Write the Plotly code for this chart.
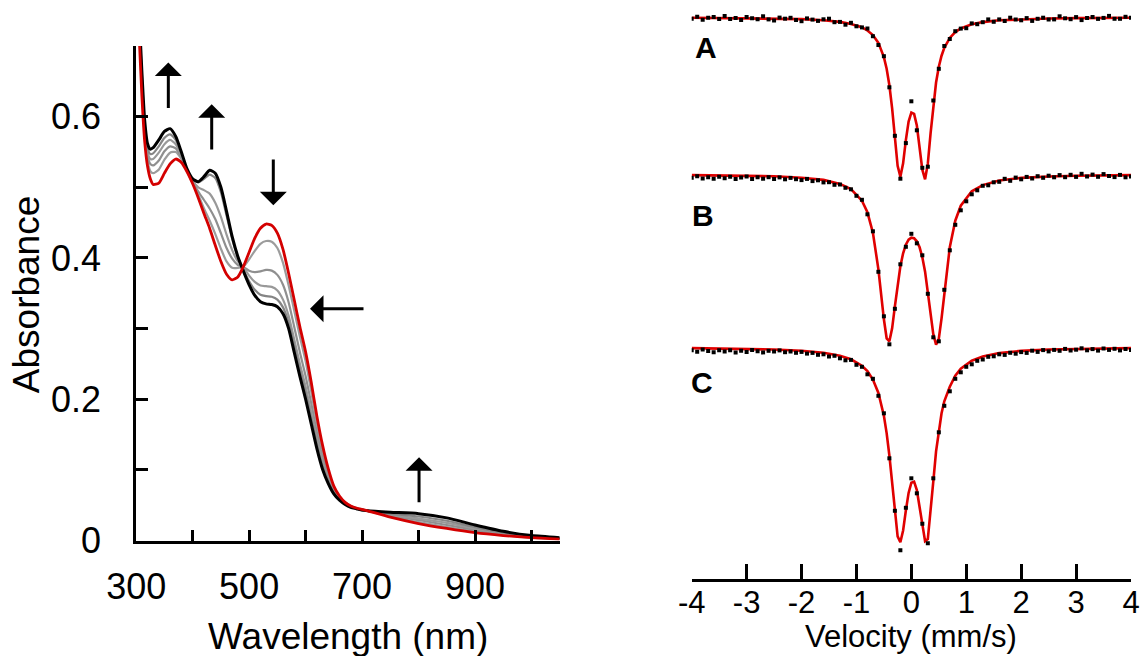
import plotly.graph_objects as go

# ---------------- UV-vis data (left panel) ----------------
wavelength = [300, 305, 310, 315, 320, 325, 330,
              340, 350, 360, 370, 380, 390, 400, 410, 420, 430, 440, 450, 460, 470,
              480, 490, 500, 510, 520, 530, 540, 550, 560, 570, 580, 590, 600, 610,
              620, 630, 640, 650, 660, 670, 680, 690, 700, 710,
              750, 800, 850, 900, 950, 1000, 1050]

abs_initial = [0.82, 0.72, 0.63, 0.565, 0.53, 0.512, 0.504,
               0.506, 0.520, 0.533, 0.540, 0.535, 0.522, 0.505, 0.485, 0.463, 0.442, 0.418, 0.395, 0.377, 0.369,
               0.373, 0.388, 0.408, 0.428, 0.442, 0.448, 0.446, 0.435, 0.412, 0.378, 0.340, 0.302, 0.267, 0.224,
               0.176, 0.135, 0.102, 0.077, 0.063, 0.054, 0.049, 0.046, 0.044, 0.042,
               0.033, 0.024, 0.017, 0.011, 0.007, 0.004, 0.002]

abs_step4 = [0.82, 0.73, 0.64, 0.573, 0.538, 0.523, 0.520,
             0.525, 0.539, 0.549, 0.550, 0.540, 0.523, 0.506, 0.489, 0.470, 0.453, 0.434, 0.413, 0.395, 0.386,
             0.386, 0.388, 0.398, 0.410, 0.420, 0.424, 0.423, 0.414, 0.393, 0.361, 0.325, 0.288, 0.254, 0.211,
             0.166, 0.127, 0.097, 0.074, 0.062, 0.054, 0.049, 0.046, 0.044, 0.042,
             0.034, 0.026, 0.019, 0.013, 0.008, 0.004, 0.002]

abs_step3 = [0.825, 0.735, 0.65, 0.58, 0.545, 0.533, 0.531,
             0.538, 0.551, 0.558, 0.555, 0.542, 0.523, 0.507, 0.494, 0.482, 0.470, 0.455, 0.435, 0.414, 0.399,
             0.390, 0.387, 0.382, 0.380, 0.381, 0.383, 0.382, 0.376, 0.362, 0.337, 0.302, 0.266, 0.233, 0.194,
             0.153, 0.118, 0.092, 0.072, 0.061, 0.053, 0.048, 0.045, 0.043, 0.042,
             0.035, 0.029, 0.022, 0.015, 0.009, 0.005, 0.003]

abs_step2 = [0.83, 0.74, 0.655, 0.585, 0.55, 0.54, 0.540,
             0.549, 0.561, 0.567, 0.561, 0.545, 0.524, 0.509, 0.500, 0.496, 0.491, 0.478, 0.458, 0.433, 0.411,
             0.395, 0.387, 0.375, 0.366, 0.361, 0.360, 0.359, 0.354, 0.341, 0.318, 0.284, 0.250, 0.218, 0.181,
             0.143, 0.111, 0.088, 0.070, 0.059, 0.053, 0.048, 0.045, 0.043, 0.042,
             0.036, 0.031, 0.025, 0.017, 0.010, 0.005, 0.003]

abs_step1 = [0.835, 0.745, 0.66, 0.59, 0.556, 0.547, 0.548,
             0.558, 0.570, 0.575, 0.567, 0.548, 0.525, 0.511, 0.507, 0.512, 0.518, 0.513, 0.493, 0.460, 0.427,
             0.401, 0.383, 0.367, 0.355, 0.348, 0.346, 0.345, 0.341, 0.330, 0.308, 0.275, 0.241, 0.209, 0.173,
             0.137, 0.106, 0.085, 0.068, 0.058, 0.052, 0.047, 0.045, 0.043, 0.042,
             0.038, 0.034, 0.028, 0.019, 0.011, 0.006, 0.003]

abs_final = [0.84, 0.75, 0.665, 0.595, 0.562, 0.554, 0.556,
             0.567, 0.579, 0.583, 0.572, 0.550, 0.526, 0.512, 0.508, 0.515, 0.524, 0.520, 0.500, 0.466, 0.430,
             0.402, 0.381, 0.362, 0.347, 0.338, 0.335, 0.334, 0.331, 0.321, 0.300, 0.266, 0.232, 0.200, 0.165,
             0.130, 0.101, 0.081, 0.066, 0.057, 0.051, 0.047, 0.045, 0.043, 0.042,
             0.040, 0.038, 0.032, 0.022, 0.013, 0.007, 0.004]

wl_tickvals = [300, 400, 500, 600, 700, 800, 900, 1000]
wl_ticktext = ["300", "", "500", "", "700", "", "900", ""]
abs_tickvals = [0, 0.1, 0.2, 0.3, 0.4, 0.5, 0.6, 0.7]
abs_ticktext = ["0", "", "0.2", "", "0.4", "", "0.6", ""]

# ---------------- Mossbauer data (right panel), relative transmission % ----------------
velocity = [-4.0, -3.9, -3.8, -3.7, -3.6, -3.5, -3.4, -3.3, -3.2, -3.1,
            -3.0, -2.9, -2.8, -2.7, -2.6, -2.5, -2.4, -2.3, -2.2, -2.1,
            -2.0, -1.9, -1.8, -1.7, -1.6, -1.5, -1.4, -1.3, -1.2, -1.1,
            -1.0, -0.9, -0.8, -0.7, -0.6, -0.5, -0.4, -0.3, -0.2, -0.1,
            0.0, 0.1, 0.2, 0.3, 0.4, 0.5, 0.6, 0.7, 0.8, 0.9,
            1.0, 1.1, 1.2, 1.3, 1.4, 1.5, 1.6, 1.7, 1.8, 1.9,
            2.0, 2.1, 2.2, 2.3, 2.4, 2.5, 2.6, 2.7, 2.8, 2.9,
            3.0, 3.1, 3.2, 3.3, 3.4, 3.5, 3.6, 3.7, 3.8, 3.9, 4.0]

trans_A = [99.925, 100.025, 99.875, 99.975, 100.020, 99.920, 100.070, 99.915, 99.965, 99.860,
           100.010, 99.955, 99.905, 100.050, 99.895, 99.840, 99.985, 99.930, 99.975, 99.865,
           99.805, 99.945, 99.885, 99.820, 99.900, 99.930, 99.755, 99.770, 99.630, 99.725,
           99.550, 99.495, 99.440, 99.055, 98.615, 98.055, 96.500, 94.075, 91.930, 93.710,
           95.800, 94.350, 92.475, 92.530, 95.840, 97.425, 98.565, 98.915, 99.305, 99.435,
           99.455, 99.695, 99.655, 99.755, 99.895, 99.775, 99.895, 99.815, 99.980, 99.890,
           99.850, 99.960, 99.820, 99.925, 99.980, 99.890, 99.895, 100.050, 99.950, 99.905,
           100.010, 99.860, 99.965, 100.015, 99.920, 99.970, 100.070, 99.925, 99.925, 100.025, 99.975]

trans_B = [99.825, 99.900, 99.790, 99.850, 99.775, 99.880, 99.805, 99.875, 99.760, 99.840,
           99.890, 99.770, 99.850, 99.780, 99.855, 99.765, 99.845, 99.750, 99.820, 99.755,
           99.710, 99.770, 99.660, 99.700, 99.595, 99.605, 99.475, 99.490, 99.325, 99.250,
           98.925, 98.725, 98.000, 97.150, 95.125, 92.900, 91.500, 93.275, 95.500, 96.375,
           97.025, 96.550, 95.950, 94.025, 91.850, 91.650, 94.225, 96.200, 97.475, 98.200,
           98.650, 99.000, 99.200, 99.425, 99.450, 99.600, 99.625, 99.775, 99.675, 99.835,
           99.750, 99.870, 99.790, 99.905, 99.825, 99.930, 99.850, 99.960, 99.855, 99.975,
           99.870, 100.025, 99.890, 99.985, 99.875, 100.010, 99.915, 99.860, 99.970, 99.850, 99.890]

trans_C = [99.850, 99.775, 99.890, 99.810, 99.750, 99.855, 99.795, 99.850, 99.740, 99.830,
           99.770, 99.860, 99.805, 99.745, 99.825, 99.790, 99.845, 99.755, 99.790, 99.725,
           99.770, 99.685, 99.720, 99.625, 99.650, 99.540, 99.575, 99.450, 99.350, 99.370,
           99.125, 99.025, 98.650, 98.425, 97.575, 96.700, 94.450, 91.825, 89.850, 91.975,
           93.450, 92.700, 91.175, 90.200, 93.450, 95.750, 97.075, 97.800, 98.425, 98.750,
           99.025, 99.150, 99.325, 99.390, 99.525, 99.550, 99.650, 99.620, 99.725, 99.680,
           99.760, 99.720, 99.830, 99.770, 99.860, 99.795, 99.870, 99.825, 99.920, 99.840,
           99.880, 99.950, 99.850, 99.910, 99.835, 99.940, 99.870, 99.925, 99.845, 99.915, 99.860]

fit_velocity = [-4.0, -3.0, -2.5, -2.0, -1.6, -1.3, -1.1, -0.9, -0.8, -0.7, -0.6,
                -0.5, -0.45, -0.4, -0.35, -0.3, -0.25, -0.2, -0.15, -0.1, -0.05, 0.0,
                0.05, 0.1, 0.15, 0.2, 0.25, 0.3, 0.35, 0.4, 0.45, 0.5, 0.55, 0.6,
                0.7, 0.8, 0.9, 1.1, 1.3, 1.6, 2.0, 2.5, 3.0, 4.0]

fit_A = [99.98, 99.96, 99.94, 99.91, 99.85, 99.77, 99.67, 99.50, 99.34, 99.11, 98.72,
         98.01, 97.43, 96.60, 95.45, 93.98, 92.57, 92.03, 92.70, 93.86, 94.79, 95.24,
         95.17, 94.59, 93.55, 92.38, 91.90, 92.68, 94.20, 95.64, 96.74, 97.53, 98.08, 98.47,
         98.97, 99.26, 99.44, 99.65, 99.76, 99.85, 99.90, 99.94, 99.96, 99.98]

fit_B = [99.96, 99.93, 99.90, 99.83, 99.72, 99.52, 99.26, 98.68, 98.10, 97.08, 95.25,
         92.75, 91.80, 91.65, 92.30, 93.40, 94.50, 95.40, 96.05, 96.48, 96.73, 96.83,
         96.80, 96.65, 96.35, 95.85, 95.13, 94.15, 93.03, 92.00, 91.48, 91.78, 92.80, 94.10,
         96.35, 97.68, 98.43, 99.15, 99.46, 99.69, 99.82, 99.89, 99.93, 99.96]

fit_C = [99.96, 99.92, 99.89, 99.83, 99.73, 99.58, 99.40, 99.08, 98.81, 98.39, 97.72,
         96.58, 95.71, 94.59, 93.19, 91.70, 90.55, 90.25, 90.84, 91.84, 92.72, 93.23,
         93.28, 92.86, 92.04, 91.03, 90.31, 90.41, 91.75, 93.30, 94.80, 95.90, 96.70, 97.30,
         98.03, 98.58, 98.93, 99.33, 99.54, 99.71, 99.82, 99.89, 99.92, 99.96]

vel_tickvals = [-4, -3, -2, -1, 0, 1, 2, 3, 4]
vel_ticktext = ["-4", "-3", "-2", "-1", "0", "1", "2", "3", "4"]
spectrum_labels = ["A", "B", "C"]

# ---------------- layout constants ----------------
W, H = 1142, 656
FONT = "Liberation Sans, Arial, sans-serif"
RED = "#d40000"
FIT_RED = "#e00000"

# vertical stacking of the Mossbauer spectra (plot units: % transmission)
stack_offsets = [-0.865, -8.715, -17.365]

fig = go.Figure()

# Left: UV-vis traces (grays first, then black, then red on top)
gray_series = [(abs_step4, "#9c9c9c"), (abs_step3, "#8f8f8f"),
               (abs_step2, "#999999"), (abs_step1, "#858585")]
for ys, col in gray_series:
    fig.add_trace(go.Scatter(x=wavelength, y=ys, mode="lines",
                             line=dict(color=col, width=2.2, shape="spline", smoothing=0.6),
                             xaxis="x", yaxis="y", showlegend=False, hoverinfo="skip"))
fig.add_trace(go.Scatter(x=wavelength, y=abs_final, mode="lines",
                         line=dict(color="black", width=3, shape="spline", smoothing=0.6),
                         xaxis="x", yaxis="y", showlegend=False))
fig.add_trace(go.Scatter(x=wavelength, y=abs_initial, mode="lines",
                         line=dict(color=RED, width=2.8, shape="spline", smoothing=0.6),
                         xaxis="x", yaxis="y", showlegend=False))

# Right: Mossbauer spectra
for fit, data, off in zip([fit_A, fit_B, fit_C], [trans_A, trans_B, trans_C], stack_offsets):
    fig.add_trace(go.Scatter(x=fit_velocity, y=[v - 100 + off for v in fit], mode="lines",
                             line=dict(color=FIT_RED, width=2.6),
                             xaxis="x2", yaxis="y2", showlegend=False))
    fig.add_trace(go.Scatter(x=velocity, y=[v - 100 + off for v in data], mode="markers",
                             marker=dict(color="black", size=4, symbol="square"),
                             xaxis="x2", yaxis="y2", showlegend=False))

axis_common = dict(showline=True, linecolor="black", linewidth=3, ticks="inside",
                   tickcolor="black", tickwidth=3, showgrid=False, zeroline=False,
                   automargin=False)

fig.update_layout(
    width=W, height=H,
    margin=dict(l=0, r=0, t=0, b=0),
    paper_bgcolor="white", plot_bgcolor="white",
    font=dict(family=FONT, color="black"),
    xaxis=dict(domain=[136.2 / W, 559.7 / W], range=[300, 1050], anchor="y",
               tickmode="array", tickvals=wl_tickvals, ticktext=wl_ticktext,
               ticklen=11, tickfont=dict(size=36), ticklabelstandoff=12, **axis_common),
    yaxis=dict(domain=[(H - 540.5) / H, (H - 46) / H], range=[0, 0.7], anchor="x",
               tickmode="array", tickvals=abs_tickvals, ticktext=abs_ticktext,
               ticklen=12, tickfont=dict(size=36), ticklabelstandoff=25, **axis_common),
    xaxis2=dict(domain=[691.7 / W, 1131 / W], range=[-4, 4], anchor="y2",
                tickmode="array", tickvals=vel_tickvals, ticktext=vel_ticktext,
                ticklen=15, tickfont=dict(size=31), ticklabelstandoff=-6, **axis_common),
    yaxis2=dict(domain=[(H - 578.5) / H, 1.0], range=[-28.925, 0], anchor="x2",
                visible=False, showgrid=False, zeroline=False),
)

annotations = []
# axis titles
annotations.append(dict(text="Wavelength (nm)", xref="paper", yref="paper",
                        x=348 / W, y=(H - 636.7) / H, xanchor="center", yanchor="middle",
                        showarrow=False, font=dict(size=37)))
annotations.append(dict(text="Absorbance", xref="paper", yref="paper",
                        x=26.7 / W, y=(H - 294.5) / H, xanchor="center", yanchor="middle",
                        textangle=-90, showarrow=False, font=dict(size=37)))
annotations.append(dict(text="Velocity (mm/s)", xref="paper", yref="paper",
                        x=911 / W, y=(H - 636.7) / H, xanchor="center", yanchor="middle",
                        showarrow=False, font=dict(size=31)))
# spectrum labels
for lab, (px, py) in zip(spectrum_labels, [(706, 47.5), (703, 216), (702, 382.5)]):
    annotations.append(dict(text="<b>%s</b>" % lab, xref="paper", yref="paper",
                            x=px / W, y=(H - py) / H, xanchor="center", yanchor="middle",
                            showarrow=False, font=dict(size=30)))
# trend arrows (tip in data coords, tail offset in px)
arrow_specs = [(356.9, 0.6768, 0, 47), (433.7, 0.6176, 0, 46.7), (542.8, 0.4745, 0, -47.3),
               (607.8, 0.3282, 55, 0), (800.9, 0.118, 0, 46.6)]
for x, y, ax, ay in arrow_specs:
    annotations.append(dict(x=x, y=y, xref="x", yref="y", ax=ax, ay=ay, text="",
                            showarrow=True, arrowhead=1, arrowsize=1.5, arrowwidth=3,
                            arrowcolor="black", standoff=0, startstandoff=0))
fig.update_layout(annotations=annotations)

fig.write_html("out.html")
